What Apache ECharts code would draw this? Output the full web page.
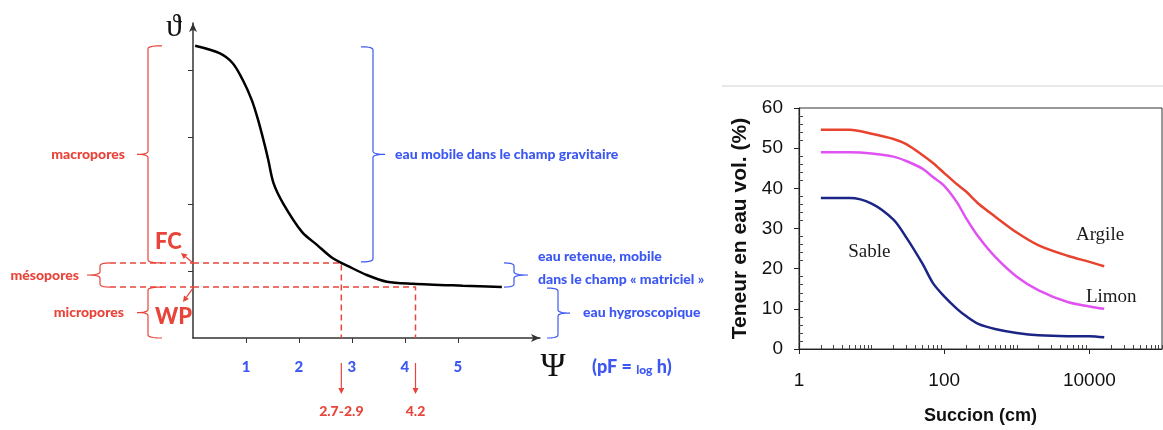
<!DOCTYPE html>
<html>
<head>
<meta charset="utf-8">
<script src="https://cdn.jsdelivr.net/npm/echarts@6/dist/echarts.min.js"></script>
<style>
  html, body { margin: 0; padding: 0; background: #fff; }
  #chart { width: 1163px; height: 430px; }
</style>
</head>
<body>
<div id="chart"></div>
<script>
// Courbe de rétention schématique : teneur en eau ϑ en fonction du pF
const pfValues    = [0.04, 0.5, 0.75, 0.94, 1.11, 1.23, 1.36, 1.42, 1.52, 1.7, 2.06, 2.34, 2.64, 2.96, 3.28, 3.66, 4.15, 5.09, 5.83];
const thetaValues = [4.36, 4.25, 4.10, 3.85, 3.55, 3.25, 2.86, 2.66, 2.31, 2.01, 1.58, 1.39, 1.19, 1.06, 0.94, 0.84, 0.81, 0.78, 0.76];
const pfTicks = [1, 2, 3, 4, 5];
const thetaTicks = [1, 2, 3, 4];

// Capacité au champ (FC) et point de flétrissement (WP)
const fcTheta = 1.12;
const fcPf = 2.8;
const fcLabel = '2.7-2.9';
const wpTheta = 0.76;
const wpPf = 4.2;
const wpLabel = '4.2';

// Courbes de rétention mesurées par texture
const suction = [2, 5, 10, 20, 30, 50, 70, 100, 150, 200, 300, 500, 1000, 2000, 5000, 10000, 16000];
const argile  = [54.6, 54.6, 53.6, 52.3, 51.0, 48.3, 46.3, 43.8, 41.0, 39.2, 36.1, 33.0, 29.0, 25.8, 23.2, 21.7, 20.6];
const limon   = [49.0, 49.0, 48.7, 47.9, 46.8, 44.9, 42.8, 40.6, 36.5, 32.6, 27.8, 23.0, 18.0, 14.6, 11.7, 10.6, 10.0];
const sable   = [37.6, 37.6, 36.2, 32.2, 27.8, 21.3, 16.4, 13.1, 10.0, 8.2, 6.2, 5.0, 4.0, 3.4, 3.2, 3.2, 2.9];
const suctionLabels = [1, 100, 10000];
const textureNames = ['Argile', 'Limon', 'Sable'];
// position des étiquettes de texture (succion, teneur)
const textureLabelAt = [[14000, 28.4], [20000, 12.9], [9.3, 24.1]];

const RED = '#e8443a';
const BLUE = '#3d58f2';
const LABEL_FONT = 'Lato, "Open Sans", sans-serif';
const LABEL_WEIGHT = 900;
const SANS = '"Liberation Sans", Arial, sans-serif';

// graduations secondaires : axe log (2..9 par décade + décades sans étiquette) et axe linéaire (pas de 2)
const minorSuction = [];
for (let k = 0; k < 5; k++) {
  const d = Math.pow(10, k);
  for (let m = 2; m <= 9; m++) minorSuction.push(m * d);
  if (k % 2 === 1) minorSuction.push(d);
}
minorSuction.push(100000);
const minorContent = [];
for (let v = 2; v < 60; v += 2) if (v % 10 !== 0) minorContent.push(v);

const zip = (xs, ys) => xs.map((x, i) => [x, ys[i]]);

const chart = echarts.init(document.getElementById('chart'), null, { renderer: 'canvas' });

chart.setOption({
  backgroundColor: '#fff',
  animation: false,
  grid: [
    { left: 193, top: 23, width: 347, height: 315 },
    { left: 799, top: 108, width: 363, height: 241, show: true, borderColor: '#333', borderWidth: 1, backgroundColor: 'transparent' }
  ],
  xAxis: [
    {
      gridIndex: 0, type: 'value', min: 0, max: 6.55,
      axisLine: { show: true, lineStyle: { color: '#333', width: 1.5 }, symbol: ['none', 'arrow'], symbolSize: [6, 9] },
      axisTick: { show: true, length: 5, customValues: pfTicks, lineStyle: { color: '#333' } },
      axisLabel: { show: true, customValues: pfTicks, margin: 22, color: BLUE, fontFamily: LABEL_FONT, fontWeight: LABEL_WEIGHT, fontSize: 15 },
      splitLine: { show: false }
    },
    {
      gridIndex: 1, type: 'log', logBase: 10, min: 1, max: 100000, position: 'bottom',
      axisLine: { show: true, lineStyle: { color: '#222', width: 1.2 } },
      axisTick: { show: true, length: 5, customValues: suctionLabels, lineStyle: { color: '#222' } },
      axisLabel: { show: true, customValues: suctionLabels, formatter: v => String(v), margin: 22, color: '#111', fontFamily: SANS, fontSize: 19 },
      splitLine: { show: false },
      name: 'Succion (cm)', nameLocation: 'middle', nameGap: 58,
      nameTextStyle: { color: '#111', fontFamily: SANS, fontWeight: 'bold', fontSize: 18 }
    },
    {
      gridIndex: 1, type: 'log', logBase: 10, min: 1, max: 100000, position: 'bottom',
      axisLine: { show: false },
      axisTick: { show: true, inside: true, length: 4, customValues: minorSuction, lineStyle: { color: '#444' } },
      axisLabel: { show: false },
      splitLine: { show: false }
    }
  ],
  yAxis: [
    {
      gridIndex: 0, type: 'value', min: 0, max: 4.7,
      axisLine: { show: true, lineStyle: { color: '#333', width: 1.5 }, symbol: ['none', 'arrow'], symbolSize: [6, 9] },
      axisTick: { show: true, length: 5, customValues: thetaTicks, lineStyle: { color: '#333' } },
      axisLabel: { show: false },
      splitLine: { show: false }
    },
    {
      gridIndex: 1, type: 'value', min: 0, max: 60, interval: 10,
      axisLine: { show: true, lineStyle: { color: '#222', width: 1.2 } },
      axisTick: { show: true, length: 5, lineStyle: { color: '#222' } },
      axisLabel: { margin: 16, color: '#111', fontFamily: SANS, fontSize: 19 },
      splitLine: { show: false },
      name: 'Teneur en eau vol. (%)', nameLocation: 'middle', nameRotate: 90, nameGap: 48,
      nameTextStyle: { color: '#111', fontFamily: SANS, fontWeight: 'bold', fontSize: 21 }
    },
    {
      gridIndex: 1, type: 'value', min: 0, max: 60, position: 'left',
      axisLine: { show: false },
      axisTick: { show: true, inside: true, length: 4, customValues: minorContent, lineStyle: { color: '#444' } },
      axisLabel: { show: false },
      splitLine: { show: false }
    }
  ],
  series: [
    {
      name: 'ϑ(pF)', type: 'line', xAxisIndex: 0, yAxisIndex: 0,
      data: zip(pfValues, thetaValues), smooth: 0.3, symbol: 'none',
      lineStyle: { color: '#000', width: 2.5 }, z: 5
    },
    {
      name: 'FC', type: 'line', xAxisIndex: 0, yAxisIndex: 0,
      data: [[0, fcTheta], [fcPf, fcTheta], [fcPf, 0]], symbol: 'none',
      lineStyle: { color: RED, width: 1.5, type: [6, 4] }, z: 3
    },
    {
      name: 'WP', type: 'line', xAxisIndex: 0, yAxisIndex: 0,
      data: [[0, wpTheta], [wpPf, wpTheta], [wpPf, 0]], symbol: 'none',
      lineStyle: { color: RED, width: 1.5, type: [6, 4] }, z: 3
    },
    {
      name: 'Argile', type: 'line', xAxisIndex: 1, yAxisIndex: 1,
      data: zip(suction, argile), smooth: 0.3, symbol: 'none',
      lineStyle: { color: '#e8432e', width: 2.5 }
    },
    {
      name: 'Limon', type: 'line', xAxisIndex: 1, yAxisIndex: 1,
      data: zip(suction, limon), smooth: 0.3, symbol: 'none',
      lineStyle: { color: '#e052f2', width: 2.5 }
    },
    {
      name: 'Sable', type: 'line', xAxisIndex: 1, yAxisIndex: 1,
      data: zip(suction, sable), smooth: 0.3, symbol: 'none',
      lineStyle: { color: '#1b2585', width: 2.5 }
    }
  ]
});

// ---- annotations ----
const px = (x, y) => chart.convertToPixel({ xAxisIndex: 0, yAxisIndex: 0 }, [x, y]);
const pxR = (x, y) => chart.convertToPixel({ xAxisIndex: 1, yAxisIndex: 1 }, [x, y]);

const origin = px(0, 0);
const x0 = origin[0], yBase = origin[1];
const yTop = px(0, thetaValues[0])[1];
const yFC = px(0, fcTheta)[1];
const yWP = px(0, wpTheta)[1];
const xFC = px(fcPf, 0)[0];
const xWP = px(wpPf, 0)[0];

// points d'une courbe de Bézier quadratique
function quad(p0, c, p1, n) {
  const pts = [];
  for (let i = 1; i <= n; i++) {
    const t = i / n, u = 1 - t;
    pts.push([u * u * p0[0] + 2 * u * t * c[0] + t * t * p1[0], u * u * p0[1] + 2 * u * t * c[1] + t * t * p1[1]]);
  }
  return pts;
}

// accolade verticale : side = 1 -> crochets vers la droite, pointe vers la gauche
function brace(x, y1, y2, side, hook, nub, color) {
  const h = x + hook * side, n = x - nub * side, mid = (y1 + y2) / 2, r = 3;
  let pts = [[h, y1]];
  pts = pts.concat(quad([h, y1], [x, y1], [x, y1 + r], 5));
  pts.push([x, mid - r]);
  pts = pts.concat(quad([x, mid - r], [x, mid], [n, mid], 5));
  pts = pts.concat(quad([n, mid], [x, mid], [x, mid + r], 5));
  pts.push([x, y2 - r]);
  pts = pts.concat(quad([x, y2 - r], [x, y2], [h, y2], 5));
  return { type: 'polyline', shape: { points: pts }, style: { stroke: color, fill: null, lineWidth: 1.2 }, z: 10 };
}

function arrow(x1, y1, x2, y2, color) {
  const a = Math.atan2(y2 - y1, x2 - x1), L = 6, W = 3;
  const bx = x2 - L * Math.cos(a), by = y2 - L * Math.sin(a);
  const nx = -Math.sin(a) * W, ny = Math.cos(a) * W;
  return [
    { type: 'line', shape: { x1, y1, x2: bx, y2: by }, style: { stroke: color, lineWidth: 1.2 }, z: 10 },
    { type: 'polygon', shape: { points: [[x2, y2], [bx + nx, by + ny], [bx - nx, by - ny]] }, style: { fill: color }, z: 10 }
  ];
}

function text(x, y, str, font, color, align) {
  return {
    type: 'text', x, y, z: 10,
    style: { text: str, font, fill: color, align: align || 'left', verticalAlign: 'middle' }
  };
}

const bold13 = LABEL_WEIGHT + ' 14px ' + LABEL_FONT;
const bold20 = LABEL_WEIGHT + ' 22px ' + LABEL_FONT;
const serif = '"Liberation Serif", "DejaVu Serif", serif';

const g = [];
// accolades rouges (pores)
g.push(brace(x0 - 45, yTop, yFC, 1, 14, 11, RED));
g.push(brace(x0 - 93, yFC, yWP, 1, 10, 13, RED));
g.push(brace(x0 - 45, yWP, yBase, 1, 14, 11, RED));
// prolongement des niveaux FC / WP jusqu'à l'accolade des mésopores
g.push({ type: 'line', shape: { x1: x0 - 83, y1: yFC, x2: x0, y2: yFC }, style: { stroke: RED, lineWidth: 1.5, lineDash: [6, 4] }, z: 9 });
g.push({ type: 'line', shape: { x1: x0 - 83, y1: yWP, x2: x0, y2: yWP }, style: { stroke: RED, lineWidth: 1.5, lineDash: [6, 4] }, z: 9 });

g.push(text(x0 - 68, (yTop + yFC) / 2, 'macropores', bold13, RED, 'right'));
g.push(text(x0 - 114, (yFC + yWP) / 2, 'mésopores', bold13, RED, 'right'));
g.push(text(x0 - 69, (yWP + yBase) / 2, 'micropores', bold13, RED, 'right'));
g.push(text(x0 - 38, yFC - 21, 'FC', bold20, RED, 'left'));
g.push(text(x0 - 38, yWP + 30, 'WP', bold20, RED, 'left'));
g.push(...arrow(x0, yFC, x0 - 12, yFC - 10, RED));
g.push(...arrow(x0, yWP + 1, x0 - 10, yWP + 15, RED));

// flèches vers les valeurs de pF
g.push(...arrow(xFC, yBase + 25, xFC, yBase + 56, RED));
g.push(...arrow(xWP, yBase + 25, xWP, yBase + 56, RED));
g.push(text(xFC, yBase + 73, fcLabel, bold13, RED, 'center'));
g.push(text(xWP, yBase + 73, wpLabel, bold13, RED, 'center'));

// accolades bleues (types d'eau)
const xg = x0 + 180;
g.push(brace(xg, yTop + 1, yFC - 1, -1, 12, 12, BLUE));
g.push(text(xg + 22, (yTop + yFC) / 2, 'eau mobile dans le champ gravitaire', bold13, BLUE, 'left'));
const xm = x0 + 321;
g.push(brace(xm, yFC, yWP, -1, 10, 14, BLUE));
g.push(text(xm + 24, yFC - 6, 'eau retenue, mobile', bold13, BLUE, 'left'));
g.push(text(xm + 24, yWP - 8, 'dans le champ « matriciel »', bold13, BLUE, 'left'));
const xh = x0 + 365;
g.push(brace(xh, yWP + 1, yBase, -1, 11, 12, BLUE));
g.push(text(xh + 25, (yWP + yBase) / 2, 'eau hygroscopique', bold13, BLUE, 'left'));

// symboles des axes
g.push(text(x0 - 19, 28, 'ϑ', '32px ' + serif, '#111', 'center'));
g.push(text(x0 + 360, yBase + 29, 'Ψ', '34px ' + serif, '#111', 'center'));
g.push({
  type: 'text', x: x0 + 399, y: yBase + 29, z: 10,
  style: {
    text: '{a|(pF = }{b|log}{a| h)}', verticalAlign: 'middle', fill: BLUE,
    rich: {
      a: { fontFamily: LABEL_FONT, fontWeight: LABEL_WEIGHT, fontSize: 18, color: BLUE },
      b: { fontFamily: LABEL_FONT, fontWeight: LABEL_WEIGHT, fontSize: 12, color: BLUE, padding: [6, 0, 0, 0] }
    }
  }
});

// étiquettes des textures
textureNames.forEach((name, i) => {
  const p = pxR(textureLabelAt[i][0], textureLabelAt[i][1]);
  g.push(text(p[0], p[1], name, '19px ' + serif, '#1a1a1a', 'center'));
});

// filet gris au-dessus du graphique de droite
g.push({ type: 'line', shape: { x1: 722, y1: 86, x2: 1163, y2: 86 }, style: { stroke: '#d2d2d2', lineWidth: 1.2 }, z: 1 });

chart.setOption({ graphic: { elements: g } });
</script>
</body>
</html>
